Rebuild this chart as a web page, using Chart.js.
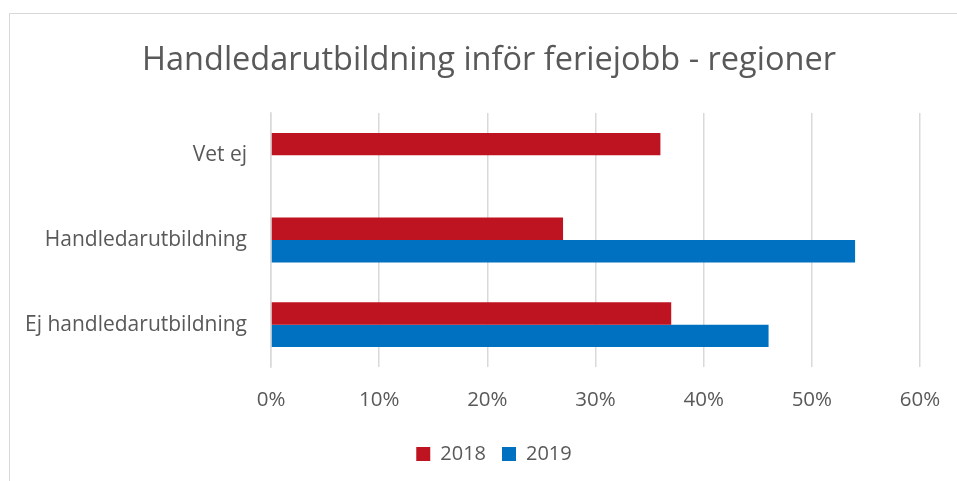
<!DOCTYPE html>
<html>
<head>
<meta charset="utf-8">
<script src="https://cdn.jsdelivr.net/npm/chart.js@4.4.1/dist/chart.umd.min.js"></script>
<style>
  html, body { margin: 0; padding: 0; background: #fff; }
  #wrap { position: relative; width: 957px; height: 481px; overflow: hidden; }
  #frame { position: absolute; left: 9px; top: 13px; width: 1000px; height: 600px; border: 1px solid #d9d9d9; }
  canvas { position: absolute; left: 0; top: 0; }
</style>
</head>
<body>
<div id="wrap">
  <div id="frame"></div>
  <canvas id="chart" width="957" height="481"></canvas>
</div>
<script>
// categories and values (percent)
const categories = ["Vet ej", "Handledarutbildning", "Ej handledarutbildning"];
const values2018 = [36, 27, 37];
const values2019 = [null, 54, 46];
const xTicks = [0, 10, 20, 30, 40, 50, 60];

const textColor = "#595959";
const gridColor = "#d9d9d9";
const fontFamily = "'Open Sans', 'Noto Sans', sans-serif";

// title and legend sit a bit right of the full-width centre in the original
const shiftBlocks = {
  id: "shiftBlocks",
  afterLayout(chart) {
    chart.titleBlock.left = 58;
    chart.legend.left = 68;
  },
};

const ctx = document.getElementById("chart").getContext("2d");
const chart = new Chart(ctx, {
  type: "bar",
  data: {
    labels: categories,
    datasets: [
      {
        label: "2018",
        data: values2018,
        backgroundColor: "#be1421",
        barPercentage: 1,
        categoryPercentage: 0.53,
      },
      {
        label: "2019",
        data: values2019,
        backgroundColor: "#0070c0",
        barPercentage: 1,
        categoryPercentage: 0.53,
      },
    ],
  },
  options: {
    indexAxis: "y",
    responsive: false,
    animation: false,
    layout: {
      padding: { left: 0, right: 37, top: 0, bottom: 7 },
    },
    scales: {
      x: {
        min: 0,
        max: 60,
        afterBuildTicks: (scale) => {
          scale.ticks = xTicks.map((v) => ({ value: v }));
        },
        afterFit: (scale) => {
          scale.height = 61;
          scale.paddingLeft = 0;
          scale.paddingRight = 0;
        },
        ticks: {
          color: textColor,
          font: { family: fontFamily, size: 20.5 },
          padding: 21,
          callback: (v) => v + "%",
        },
        grid: { color: gridColor, lineWidth: 1.5, drawTicks: false },
        border: { display: false },
      },
      y: {
        afterFit: (scale) => {
          scale.width = 271;
        },
        ticks: {
          color: textColor,
          font: { family: fontFamily, size: 21 },
          padding: 16,
        },
        grid: { display: false },
        border: { color: gridColor, width: 1.5 },
      },
    },
    plugins: {
      title: {
        display: true,
        text: "Handledarutbildning inför feriejobb - regioner",
        color: textColor,
        font: { family: fontFamily, size: 32.5, weight: "normal" },
        padding: { top: 41, bottom: 33 },
      },
      legend: {
        position: "bottom",
        labels: {
          color: textColor,
          font: { family: fontFamily, size: 20 },
          boxWidth: 14,
          boxHeight: 14,
          padding: 16,
        },
      },
      tooltip: { enabled: false },
    },
  },
  plugins: [shiftBlocks],
});
</script>
</body>
</html>
